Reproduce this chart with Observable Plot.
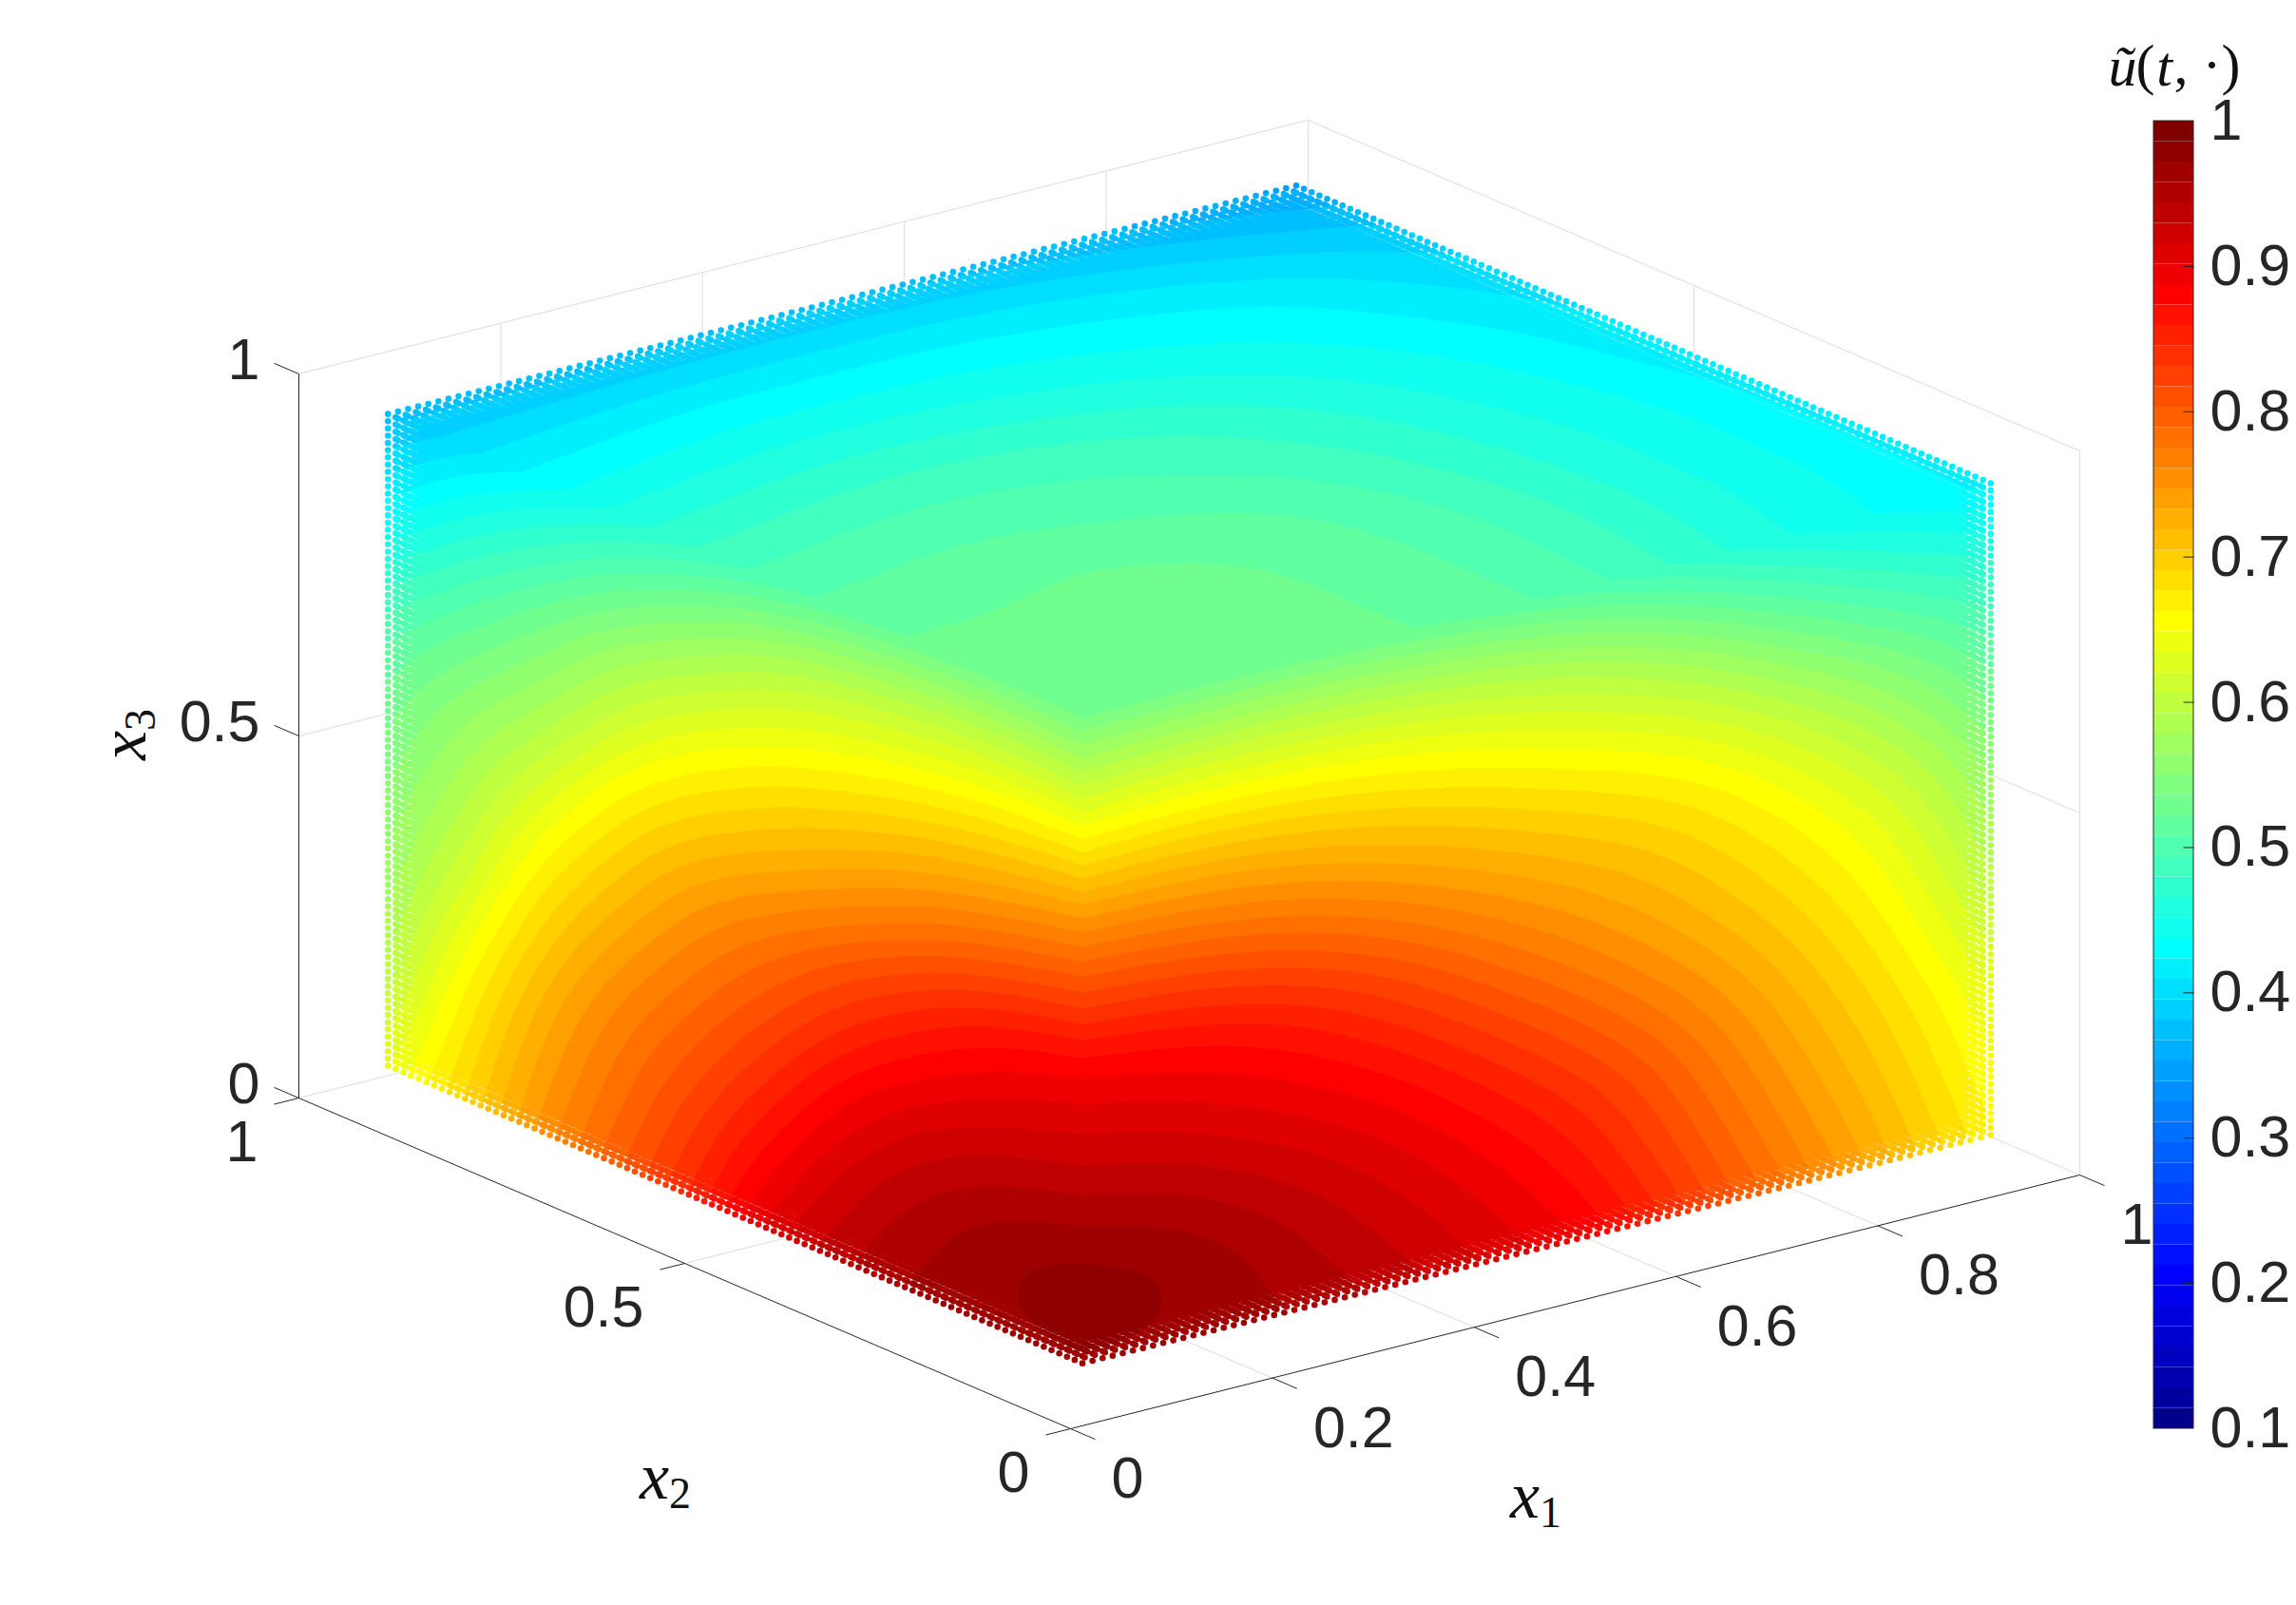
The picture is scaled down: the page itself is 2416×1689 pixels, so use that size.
<!DOCTYPE html>
<html><head><meta charset="utf-8">
<script src="https://cdn.jsdelivr.net/npm/d3@7"></script>
<script src="https://cdn.jsdelivr.net/npm/@observablehq/plot@0.6"></script>
<style>html,body{margin:0;padding:0;background:#fff}svg{display:block}</style>
</head><body><div id="chart"></div>
<script>
// sample positions along each cube side (rows/columns of the value tables)
const sampleLevels = [.05,.15,.25,.35,.45,.55,.65,.75,.85,.95];
const x1Ticks = [0,.2,.4,.6,.8,1];
const x2Ticks = [0,.5,1];
const x3Ticks = [0,.5,1];
const barTicks = [.1,.2,.3,.4,.5,.6,.7,.8,.9,1];

// face x2 = 0.05 : one row per x3 level, one column per x1 level
const faceFrontRight = [
 [.97,.97,.96,.94,.915,.89,.83,.775,.72,.665],
 [.985,.975,.95,.925,.90,.865,.81,.755,.705,.65],
 [.955,.945,.925,.905,.875,.84,.79,.735,.69,.635],
 [.92,.91,.895,.875,.84,.80,.76,.715,.67,.61],
 [.89,.88,.865,.835,.795,.76,.725,.69,.65,.585],
 [.825,.82,.805,.78,.75,.725,.70,.665,.625,.565],
 [.76,.755,.745,.725,.705,.685,.665,.63,.585,.535],
 [.68,.685,.68,.67,.655,.635,.615,.575,.54,.505],
 [.605,.61,.61,.605,.595,.58,.55,.515,.485,.465],
 [.53,.53,.53,.525,.515,.50,.475,.45,.435,.42]
];
// face x1 = 0.05 : one row per x3 level, one column per x2 level
const faceFrontLeft = [
 [.97,.97,.965,.945,.915,.85,.80,.755,.69,.635],
 [.985,.975,.955,.93,.885,.83,.785,.74,.675,.605],
 [.955,.945,.93,.90,.85,.805,.77,.72,.65,.58],
 [.92,.91,.89,.86,.815,.78,.74,.69,.615,.565],
 [.89,.875,.85,.815,.78,.75,.705,.655,.59,.55],
 [.825,.81,.785,.755,.73,.705,.67,.61,.57,.53],
 [.76,.74,.725,.705,.685,.66,.62,.57,.54,.505],
 [.68,.675,.665,.65,.635,.605,.575,.535,.50,.465],
 [.605,.61,.605,.595,.58,.55,.52,.485,.455,.415],
 [.53,.53,.525,.515,.50,.48,.455,.43,.405,.375]
];
// face x3 = 0.95 : one row per x2 level, one column per x1 level
const faceTop = [
 [.53,.53,.53,.525,.515,.50,.475,.45,.435,.42],
 [.53,.53,.53,.525,.515,.50,.48,.455,.44,.42],
 [.525,.525,.53,.525,.515,.50,.48,.455,.44,.42],
 [.515,.515,.52,.515,.51,.495,.475,.455,.44,.42],
 [.50,.505,.505,.50,.495,.485,.47,.45,.435,.415],
 [.48,.485,.49,.49,.485,.475,.46,.445,.43,.41],
 [.455,.46,.465,.465,.46,.455,.445,.435,.42,.405],
 [.43,.435,.44,.44,.44,.435,.43,.425,.41,.395],
 [.405,.41,.415,.415,.415,.415,.41,.40,.39,.38],
 [.375,.375,.375,.38,.38,.38,.375,.37,.36,.35]
];

// orthographic view of the unit cube
const px = (a,b,c) => 1126 + 1062*a - 812*b;
const py = (a,b,c) => 1503 - 267*a - 348*b - 762*c;

// MATLAB jet(64)
const clamp = v => Math.max(0,Math.min(1,v));
const hex2 = v => Math.round(clamp(v)*255).toString(16).padStart(2,"0");
const jet = d3.range(64).map(i => { const t=(i+1)/64;
  return "#"+hex2(1.5-Math.abs(4*t-3))+hex2(1.5-Math.abs(4*t-2))+hex2(1.5-Math.abs(4*t-1)); });
const thresholds = d3.range(1,64).map(i => .1+.9*i/64);

// read a value table at a position between its samples (smooth display of the read-off table)
const lo=.05, hi=.95, step=.01;
const bs=(p0,p1,p2,p3,t)=>{ const t2=t*t,t3=t2*t;
  return ((1-t)*(1-t)*(1-t)*p0+(3*t3-6*t2+4)*p1+(-3*t3+3*t2+3*t+1)*p2+t3*p3)/6; };
function readTable(tab,rowPos,colPos){
  const n=tab.length-1;
  const u=Math.max(0,Math.min(n,(rowPos-lo)/.1)), v=Math.max(0,Math.min(n,(colPos-lo)/.1));
  const r=Math.min(n-1,Math.floor(u)), q=Math.min(n-1,Math.floor(v));
  const at=(i,j)=>{ // extend the table linearly past its ends
    const ii=Math.max(0,Math.min(n,i)), jj=Math.max(0,Math.min(n,j));
    let w=tab[ii][jj];
    if(i!==ii) w+= (i<0? tab[0][jj]-tab[1][jj] : tab[n][jj]-tab[n-1][jj]);
    if(j!==jj) w+= (j<0? tab[ii][0]-tab[ii][1] : tab[ii][n]-tab[ii][n-1]);
    return w; };
  const row=i=>bs(at(i,q-1),at(i,q),at(i,q+1),at(i,q+2),v-q);
  return bs(row(r-1),row(r),row(r+1),row(r+2),u-r);
}
const X0=px(lo,lo,lo);
function field(X,Y){
  if(X>=X0){
    const a=lo+(X-X0)/1062, c=(py(a,lo,0)-Y)/762;
    if(c<=hi) return readTable(faceFrontRight,c,a);
  } else {
    const b=lo+(X0-X)/812, c=(py(lo,b,0)-Y)/762;
    if(c<=hi) return readTable(faceFrontLeft,c,b);
  }
  // top face
  const A=X-1126, B=1503-762*hi-Y, det=1062*348+812*267;
  const a=(A*348+812*B)/det, b=(1062*B-267*A)/det;
  return readTable(faceTop,b,a);
}

// axes geometry
const seg = (p,q) => ({x1:px(...p),y1:py(...p),x2:px(...q),y2:py(...q)});
const greyLines = [
  seg([0,1,1],[1,1,1]), seg([1,1,1],[1,0,1]), seg([1,0,1],[1,0,0]), seg([1,1,0],[1,1,1]),
  seg([1,0,0],[1,1,0]), seg([0,1,0],[1,1,0]),
  ...x1Ticks.slice(1,-1).flatMap(t=>[seg([t,0,0],[t,1,0]), seg([t,1,0],[t,1,1])]),
  seg([0,.5,0],[1,.5,0]), seg([1,.5,0],[1,.5,1]),
  seg([0,1,.5],[1,1,.5]), seg([1,1,.5],[1,0,.5])
];
const tl = .0245, tk = .032;
const darkLines = [
  seg([0,1,0],[0,1,1]), seg([0,1,0],[0,0,0]), seg([0,0,0],[1,0,0]),
  ...x3Ticks.map(t=>seg([0,1,t],[0,1+tk,t])),
  ...x2Ticks.map(t=>seg([0,t,0],[-tl,t,0])),
  ...x1Ticks.map(t=>seg([t,0,0],[t,-tk,0]))
];
const fmt = d => String(d);
const tickFont = {fontFamily:"Liberation Sans, Arial, sans-serif",fontSize:61,fill:"#262626",lineAnchor:"middle"};

// colour bar
const barLeft=2266, barRight=2308, barTop=127, barBottom=1503;
const barY = v => barBottom-(v-.1)/.9*(barBottom-barTop);
const barCells = d3.range(64).map(i=>({lo:.1+.9*i/64,hi:.1+.9*(i+1)/64}));

const mathFont = {fontFamily:"Liberation Serif, serif",fill:"#111",lineAnchor:"middle"};
const plot = Plot.plot({
  width:2416,height:1689,margin:0,
  style:{background:"#fff",overflow:"visible"},
  x:{domain:[0,2416],axis:null},
  y:{domain:[1689,0],axis:null},
  color:{type:"threshold",domain:thresholds,range:jet},
  marks:[
    Plot.link(greyLines,{x1:"x1",y1:"y1",x2:"x2",y2:"y2",stroke:"#dcdcdc",strokeWidth:1}),
    Plot.raster({x1:0,x2:2416,y1:1689,y2:0,width:2416,height:1689,fill:field}),
    Plot.link(darkLines,{x1:"x1",y1:"y1",x2:"x2",y2:"y2",stroke:"#262626",strokeWidth:1}),
    Plot.text(x3Ticks,{x:t=>px(0,1,t),y:t=>py(0,1,t),text:fmt,dx:-41,dy:-14,textAnchor:"end",...tickFont}),
    Plot.text(x2Ticks,{x:t=>px(0,t,0),y:t=>py(0,t,0),text:fmt,dx:-43,dy:47,textAnchor:"end",...tickFont}),
    Plot.text(x1Ticks,{x:t=>px(t,0,0),y:t=>py(t,0,0),text:fmt,dx:43,dy:53,textAnchor:"start",...tickFont}),
    Plot.text(["x"],{x:[1604],y:[1574],text:d=>d,fontSize:70,fontStyle:"italic",textAnchor:"middle",...mathFont}),
    Plot.text(["1"],{x:[1631],y:[1592],text:d=>d,fontSize:46,textAnchor:"middle",...mathFont}),
    Plot.text(["x"],{x:[688],y:[1554],text:d=>d,fontSize:70,fontStyle:"italic",textAnchor:"middle",...mathFont}),
    Plot.text(["2"],{x:[715],y:[1572],text:d=>d,fontSize:46,textAnchor:"middle",...mathFont}),
    Plot.text(["x"],{x:[130],y:[784],text:d=>d,fontSize:70,fontStyle:"italic",rotate:-90,textAnchor:"middle",...mathFont}),
    Plot.text(["3"],{x:[148],y:[757],text:d=>d,fontSize:46,rotate:-90,textAnchor:"middle",...mathFont}),
    // colour bar
    Plot.rect(barCells,{x1:()=>barLeft,x2:()=>barRight,y1:d=>barY(d.lo),y2:d=>barY(d.hi),fill:d=>(d.lo+d.hi)/2}),
    Plot.rect([0],{x1:()=>barLeft,x2:()=>barRight,y1:()=>barBottom,y2:()=>barTop,fill:"none",stroke:"#262626",strokeWidth:1}),
    Plot.link(barTicks.slice(1,-1),{x1:()=>barRight-11,x2:()=>barRight,y1:barY,y2:barY,stroke:"#262626",strokeWidth:1}),
    Plot.text(barTicks,{x:()=>barRight+17,y:barY,text:fmt,textAnchor:"start",...tickFont}),
    Plot.text(["ũ"],{x:[2233],y:[70],text:d=>d,fontSize:60,fontStyle:"italic",textAnchor:"middle",...mathFont}),
    Plot.text(["("],{x:[2257],y:[68],text:d=>d,fontSize:60,textAnchor:"middle",...mathFont}),
    Plot.text(["t"],{x:[2277],y:[70],text:d=>d,fontSize:60,fontStyle:"italic",textAnchor:"middle",...mathFont}),
    Plot.text([", ·)"],{x:[2287],y:[68],text:d=>d,fontSize:60,textAnchor:"start",...mathFont})
  ]
});
document.getElementById("chart").append(plot);

// the field image takes the outline of the point cloud
const hull=[[lo,lo,lo],[hi,lo,lo],[hi,lo,hi],[hi,hi,hi],[lo,hi,hi],[lo,hi,lo]].map(p=>[px(...p),py(...p)]);
const cx=d3.mean(hull,d=>d[0]), cy=d3.mean(hull,d=>d[1]);
const scaled=f=>hull.map(([x,y])=>[cx+(x-cx)*f,cy+(y-cy)*f]);
const inner=scaled(.962), skip=scaled(.945);
const svgNS="http://www.w3.org/2000/svg";
const cp=document.createElementNS(svgNS,"clipPath"); cp.setAttribute("id","cloud");
const poly=document.createElementNS(svgNS,"polygon"); poly.setAttribute("points",inner.map(d=>d.join(",")).join(" ")); cp.append(poly);
for(let i=0;i<=90;i++)for(let j=0;j<=90;j++)for(let k=0;k<=90;k++){
  if(Math.min(i,j,90-k)>4) continue;
  const a=lo+i*step,b=lo+j*step,c=lo+k*step,X=px(a,b,c),Y=py(a,b,c);
  if(d3.polygonContains(skip,[X,Y])) continue;
  const e=document.createElementNS(svgNS,"circle");
  e.setAttribute("cx",X);e.setAttribute("cy",Y);e.setAttribute("r",3.3);cp.append(e);
}
plot.append(cp);
plot.querySelector('g[aria-label="raster"]').setAttribute("clip-path","url(#cloud)");
</script></body></html>
